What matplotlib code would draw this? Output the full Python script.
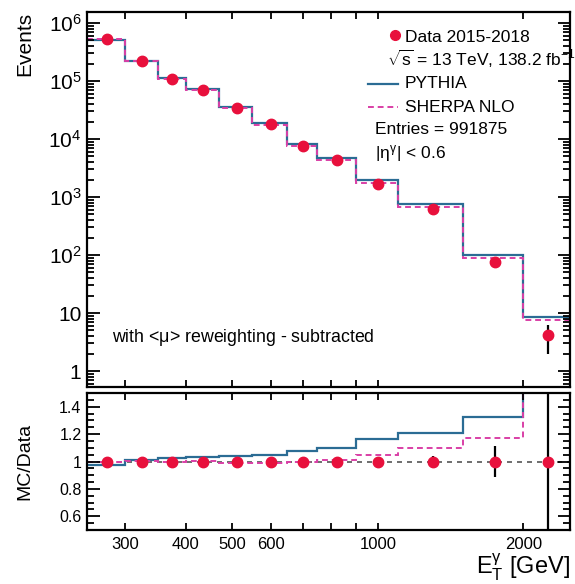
import matplotlib
matplotlib.use("Agg")
import matplotlib.pyplot as plt
from matplotlib.lines import Line2D
import numpy as np

plt.rcParams['font.family'] = ['Liberation Sans', 'DejaVu Sans']
plt.rcParams['mathtext.fontset'] = 'custom'
plt.rcParams['mathtext.rm'] = 'Liberation Sans'
plt.rcParams['mathtext.it'] = 'Liberation Sans'
plt.rcParams['mathtext.bf'] = 'Liberation Sans:bold'

# photon ET binning (GeV)
bin_edges = [250, 300, 350, 400, 470, 550, 650, 750, 900, 1100, 1500, 2000, 2500]
bin_centers = [275, 325, 375, 435, 510, 600, 700, 825, 1000, 1300, 1750, 2250]

# event counts
data_counts = [5.3e5, 2.2e5, 1.08e5, 7.1e4, 3.46e4, 1.8e4, 7.6e3, 4.3e3, 1.7e3, 620, 75, 4.1]
data_errors = [728, 469, 329, 266, 186, 134, 87, 66, 41, 25, 8.7, 2.1]
pythia_counts = [5.18e5, 2.23e5, 1.107e5, 7.33e4, 3.61e4, 1.89e4, 8.2e3, 4.73e3, 1.98e3, 748, 99.5, 8.6]
sherpa_counts = [5.28e5, 2.21e5, 1.08e5, 7.14e4, 3.43e4, 1.78e4, 7.55e3, 4.36e3, 1.78e3, 680, 87.8, 7.5]

x_ticks = [300, 400, 500, 600, 1000, 2000]
x_minor = [700, 800, 900]

c_data = '#e8103c'
c_pythia = '#2b6c94'
c_sherpa = '#d93fa6'

W, H = 575, 584
fig = plt.figure(figsize=(W / 100, H / 100), dpi=100)

ax = fig.add_axes([87 / W, 1 - 387 / H, (570 - 87) / W, (387 - 12) / H])
axr = fig.add_axes([87 / W, 1 - 530 / H, (570 - 87) / W, (530 - 393) / H])

data = np.array(data_counts)
err = np.array(data_errors)
pyt = np.array(pythia_counts)
she = np.array(sherpa_counts)

# ---- upper panel
ax.stairs(pyt, bin_edges, color=c_pythia, lw=1.6, baseline=None)
ax.stairs(she, bin_edges, color=c_sherpa, lw=1.4, ls=(0, (3, 2)), baseline=None)
ax.errorbar(bin_centers, data, yerr=err, fmt='o', color=c_data, ms=7.5,
            ecolor='black', elinewidth=1.6, capsize=0, zorder=5)

ax.set_xscale('log')
ax.set_yscale('log')
ax.set_xlim(250, 2500)
ax.set_ylim(0.53, 1.55e6)
ax.set_yticks([1, 10, 1e2, 1e3, 1e4, 1e5, 1e6])
ax.set_yticklabels(['1', '10', '$10^{2}$', '$10^{3}$', '$10^{4}$', '$10^{5}$', '$10^{6}$'])
ax.set_xticks(x_ticks)
ax.set_xticks(x_minor, minor=True)
ax.set_xticklabels([])
ax.set_xticklabels([], minor=True)
ax.set_ylabel('Events', fontsize=15, loc='top')
ax.yaxis.set_label_coords(-0.11, 1.0)

# legend drawn by hand
tr = ax.transAxes
def px(x, y):
    return ((x - 87) / (570 - 87), (387 - y) / (387 - 12))

ax.plot(*px(395, 35), 'o', color=c_data, ms=7, transform=tr, clip_on=False)
ax.text(*px(405, 37), 'Data 2015-2018', transform=tr, fontsize=12.5, va='center')
ax.text(*px(387, 59), r'$\sqrt{s}$ = 13 TeV, 138.2 fb$^{-1}$', transform=tr, fontsize=12.5, va='center')
ax.add_line(Line2D([px(368, 0)[0], px(398, 0)[0]], [px(0, 84)[1]] * 2, color=c_pythia, lw=1.6, transform=tr))
ax.text(*px(405, 84), 'PYTHIA', transform=tr, fontsize=12.5, va='center')
ax.add_line(Line2D([px(368, 0)[0], px(398, 0)[0]], [px(0, 107)[1]] * 2, color=c_sherpa, lw=1.4,
                   ls=(0, (3, 2)), transform=tr))
ax.text(*px(405, 107), 'SHERPA NLO', transform=tr, fontsize=12.5, va='center')
ax.text(*px(375, 129), 'Entries = 991875', transform=tr, fontsize=12.5, va='center')
ax.text(*px(375, 153), r'$|\eta^{\gamma}|$ < 0.6', transform=tr, fontsize=12.5, va='center')
ax.text(*px(112, 338), r'with <$\mu$> reweighting - subtracted', transform=tr, fontsize=12.8, va='center')

# ---- ratio panel
axr.axhline(1.0, color='#555555', lw=1.2, ls=(0, (3, 3)), zorder=1)
axr.stairs(pyt / data, bin_edges, color=c_pythia, lw=1.6, baseline=None)
axr.stairs(she / data, bin_edges, color=c_sherpa, lw=1.4, ls=(0, (3, 2)), baseline=None)
axr.errorbar(bin_centers, np.ones_like(data), yerr=err / data, fmt='o', color=c_data, ms=7.5,
             ecolor='black', elinewidth=1.6, capsize=0, zorder=5)
axr.set_xscale('log')
axr.set_xlim(250, 2500)
axr.set_ylim(0.5, 1.5)
axr.set_yticks([0.6, 0.8, 1.0, 1.2, 1.4])
axr.set_yticklabels(['0.6', '0.8', '1', '1.2', '1.4'])
axr.set_yticks(np.arange(0.5, 1.51, 0.05), minor=True)
axr.set_xticks(x_ticks)
axr.set_xticklabels([str(t) for t in x_ticks])
axr.set_xticks(x_minor, minor=True)
axr.set_xticklabels([], minor=True)
axr.set_ylabel('MC/Data', fontsize=14)
axr.yaxis.set_label_coords(-0.11, 0.5)
axr.set_xlabel(r'E$_{\mathrm{T}}^{\gamma}$ [GeV]', fontsize=17, loc='right')
axr.xaxis.set_label_coords(1.0, -0.16)

for a, ylab in ((ax, 15), (axr, 11.5)):
    for s in a.spines.values():
        s.set_linewidth(1.6)
    a.tick_params(which='both', direction='in', top=True, right=True, width=1.3)
    a.tick_params(axis='y', which='major', length=9, labelsize=ylab, pad=4)
    a.tick_params(axis='y', which='minor', length=5)
    a.tick_params(axis='x', which='both', length=5, labelsize=12, pad=5)

fig.savefig('out.png', dpi=100)
